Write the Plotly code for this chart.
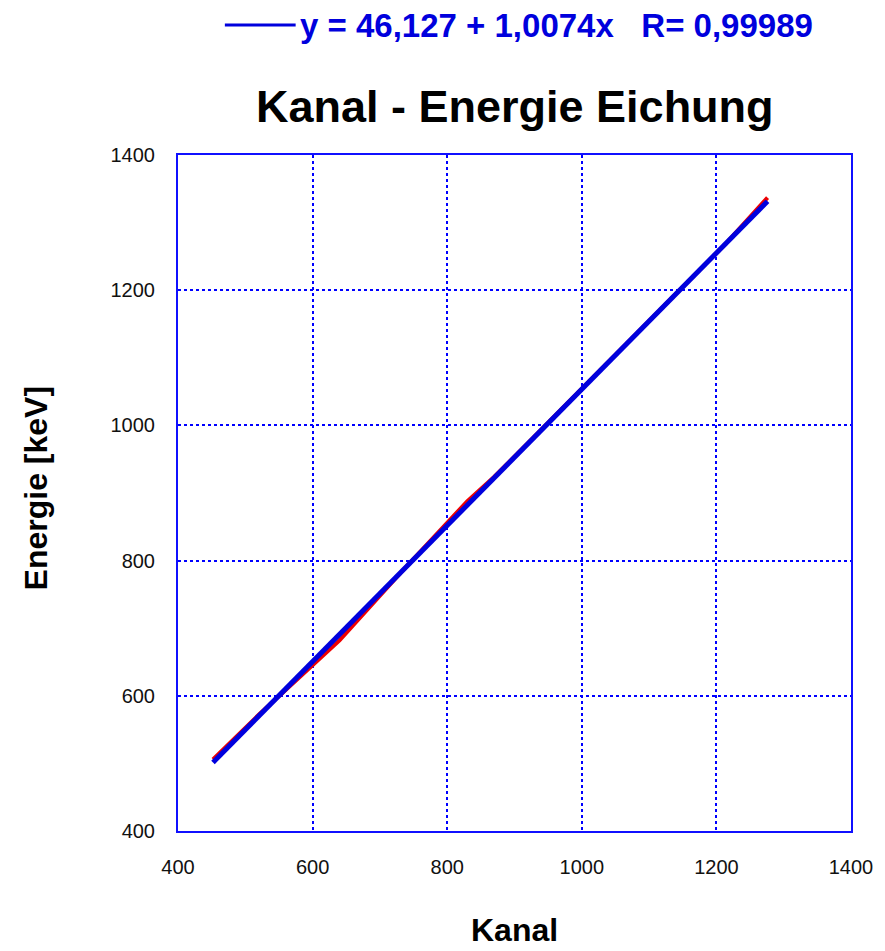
import plotly.graph_objects as go

# Calibration points: channel number vs. gamma energy (keV)
kanal = [452, 520, 640, 730, 830, 870, 1215, 1276]
energie = [506, 572, 682, 781, 888, 924, 1270, 1337]

# Linear fit coefficients
fit_a = 46.127
fit_b = 1.0074
fit_r = 0.99989

x_ticks = [400, 600, 800, 1000, 1200, 1400]
y_ticks = [400, 600, 800, 1000, 1200, 1400]

fit_x = [min(kanal), max(kanal)]
fit_y = [fit_a + fit_b * v for v in fit_x]

W, H = 885, 951
ml, mr, mt, mb = 178, 32, 155, 120
pw, ph = W - ml - mr, H - mt - mb

fig = go.Figure()
fig.add_trace(go.Scatter(x=kanal, y=energie, mode="lines",
                         line=dict(color="#ee0000", width=4), showlegend=False))
fig.add_trace(go.Scatter(x=fit_x, y=fit_y, mode="lines",
                         line=dict(color="#0000dd", width=5), showlegend=False))

axis_common = dict(
    showline=True, mirror=True, linecolor="#1010ff", linewidth=2,
    showgrid=True, gridcolor="#0000ff", griddash="3px,3px", gridwidth=1.6,
    zeroline=False, ticks="", ticklabelstandoff=17,
    tickfont=dict(family="Liberation Sans, Arial", size=20, color="#111111"),
    title=None,
)

fig.update_xaxes(range=[400, 1400], tickvals=x_ticks,
                 ticktext=[str(t) for t in x_ticks], **axis_common)
fig.update_yaxes(range=[400, 1400], tickvals=y_ticks,
                 ticktext=[str(t) for t in y_ticks], **axis_common)

fmt = lambda v: str(v).replace(".", ",")
legend_text = (f"y = {fmt(fit_a)} + {fmt(fit_b)}x"
               f"&nbsp;&nbsp;&nbsp;R= {fmt(fit_r)}")

def px_x(p):
    return (p - ml) / pw

def px_y(p):
    return 1 - (p - mt) / ph

annotations = [
    dict(text="<b>Kanal - Energie Eichung</b>", xref="paper", yref="paper",
         x=0.5, y=px_y(106), xanchor="center", yanchor="middle", showarrow=False,
         font=dict(family="Liberation Sans, Arial", size=45, color="black")),
    dict(text=f"<b>{legend_text}</b>", xref="paper", yref="paper",
         x=px_x(298), y=px_y(25), xanchor="left", yanchor="middle", showarrow=False,
         font=dict(family="Liberation Sans, Arial", size=33, color="#0000dd")),
    dict(text="<b>Kanal</b>", xref="paper", yref="paper",
         x=0.5, y=px_y(930), xanchor="center", yanchor="middle", showarrow=False,
         font=dict(family="Liberation Sans, Arial", size=32, color="black")),
    dict(text="<b>Energie [keV]</b>", xref="paper", yref="paper",
         x=px_x(36), y=px_y(488), xanchor="center", yanchor="middle", showarrow=False,
         textangle=-90,
         font=dict(family="Liberation Sans, Arial", size=32, color="black")),
]

shapes = [
    dict(type="line", xref="paper", yref="paper",
         x0=px_x(225), x1=px_x(296), y0=px_y(25), y1=px_y(25),
         line=dict(color="#0000dd", width=3)),
]

fig.update_layout(
    width=W, height=H,
    margin=dict(l=ml, r=mr, t=mt, b=mb),
    paper_bgcolor="white", plot_bgcolor="white",
    annotations=annotations, shapes=shapes,
    showlegend=False,
)

fig.write_html("out.html")
